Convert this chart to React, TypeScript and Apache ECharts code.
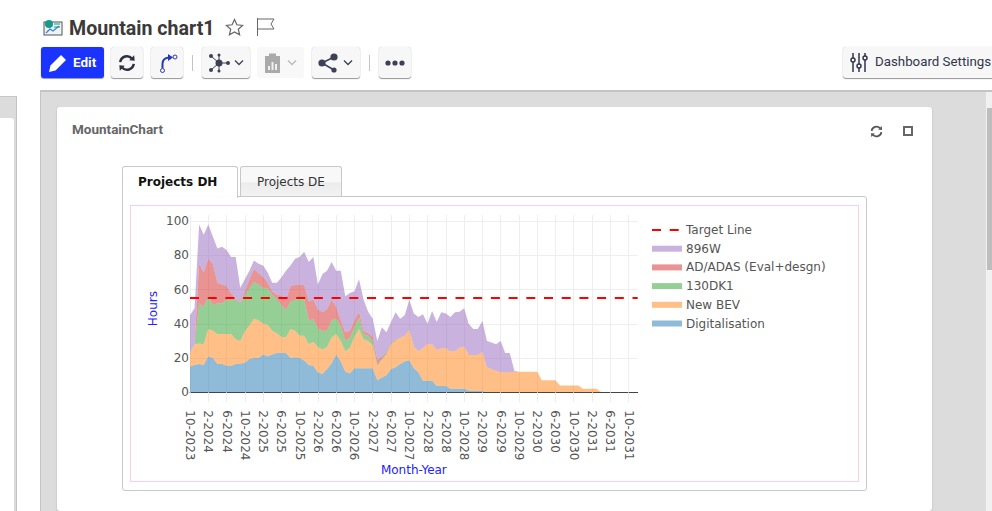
import React, { useEffect, useRef } from "react";
import * as echarts from "echarts";

const months: string[] = [
  "10-2023","11-2023","12-2023","1-2024","2-2024","3-2024","4-2024","5-2024","6-2024","7-2024","8-2024","9-2024","10-2024","11-2024","12-2024",
  "1-2025","2-2025","3-2025","4-2025","5-2025","6-2025","7-2025","8-2025","9-2025","10-2025","11-2025","12-2025",
  "1-2026","2-2026","3-2026","4-2026","5-2026","6-2026","7-2026","8-2026","9-2026","10-2026","11-2026","12-2026",
  "1-2027","2-2027","3-2027","4-2027","5-2027","6-2027","7-2027","8-2027","9-2027","10-2027","11-2027","12-2027",
  "1-2028","2-2028","3-2028","4-2028","5-2028","6-2028","7-2028","8-2028","9-2028","10-2028","11-2028","12-2028",
  "1-2029","2-2029","3-2029","4-2029","5-2029","6-2029","7-2029","8-2029","9-2029","10-2029","11-2029","12-2029",
  "1-2030","2-2030","3-2030","4-2030","5-2030","6-2030","7-2030","8-2030","9-2030","10-2030","11-2030","12-2030",
  "1-2031","2-2031","3-2031","4-2031","5-2031","6-2031","7-2031","8-2031","9-2031","10-2031","11-2031","12-2031",
];

const digitalisation = [15,16,16.5,16,21,20,16.5,16.7,15.5,15.5,16.5,16.7,17.3,19.5,20,20,22,21,22,23,23,23,20,20.4,20,18.5,16,15.5,11.5,10.7,13.6,17,22,18,12,11,14,14,14,14,14,7,8.6,10,13.6,14.6,16.5,18,18.7,14,11.5,6.8,6.8,6.8,3.7,3.7,3.7,2,2,2,2,1,0.8,0.8,0.8,0,0,0,0,0,0,0,0,0,0,0,0,0,0,0,0,0,0,0,0,0,0,0,0,0,0,0,0,0,0,0,0,0,0];
const newBev = [8,12,12,12,16,16,17.5,17.3,18.5,18.5,14.5,13.3,18.2,19.5,23,22,18,18.5,14,11.5,9.5,9,17,15.6,13,14.5,12,14,15,14.3,12.9,15,12,12,12,15,18.5,23,17,16,13.5,8.5,10.4,12,14.4,15.4,15.5,15,17.7,12.7,12.5,19.2,21.2,21.2,21,22,22,22,22,24,24.7,20.8,21,21,22.9,14.6,13.6,12.6,11.7,11.7,11.7,12,12,12,12,12,12,7,7,7,7,4,4,4,4,4,2,2,2,2,0,0,0,0,0,0,0,0,0];
const dk130 = [0,0,23.5,22,19,15,18,18,20,20,23,22,21.5,21.7,21.6,21,21,21.2,21,20,18.5,16,16,18,21.5,21.3,14,13.1,10.8,11,9.5,10,9,9,6,6,5.5,6.6,3,3,2.5,0.8,0.5,1,0.5,0.3,0,0,0,0,0,0,0,0,0,0,0,0,0,0,0,0,0,0,0,0,0,0,0,0,0,0,0,0,0,0,0,0,0,0,0,0,0,0,0,0,0,0,0,0,0,0,0,0,0,0,0,0,0];
const adAdas = [0,0,23,20,22,24,12,11,8,4,0.5,0.5,2,5.3,7.4,6.5,6.5,3.3,2,2.5,5.5,6,9,8.6,8.1,8.3,11,11.4,11.2,10.7,12.6,12,7,3,5,4,4,3.4,2,1.5,2.5,2.7,1.3,0.7,0.5,0.3,0,0,0,0,0,0,0,0,0,0,0,0,0,0,0,0,0,0,0,0,0,0,0,0,0,0,0,0,0,0,0,0,0,0,0,0,0,0,0,0,0,0,0,0,0,0,0,0,0,0,0,0,0];
const w896 = [22,21,23,22,20,16,20,22,21,21,24.5,8.5,7,5,5,5.5,6.5,6,5,7,10.5,17,12,15.4,16.4,19.4,23,25,14.5,22.3,22.4,22,21,29,21,22,17,19,18,12.5,10.5,11,17.2,11.3,12,16.1,11,12,17.6,19.3,20,19.5,12,19.5,16.3,21,20.3,20,22.7,21,22.3,18.2,15.2,15.2,17.9,15.4,15.4,15.4,18.3,11.3,11.3,0.6,0,0,0,0,0,0,0,0,0,0,0,0,0,0,0,0,0,0,0,0,0,0,0,0,0,0,0];
const target = months.map(() => 55);

const seriesNames = ["Digitalisation", "New BEV", "130DK1", "AD/ADAS (Eval+desgn)", "896W"];
const seriesColors = ["rgba(31,119,180,0.5)", "rgba(255,127,14,0.5)", "rgba(44,160,44,0.5)", "rgba(214,39,40,0.5)", "rgba(148,103,189,0.5)"];
const seriesValues = [digitalisation, newBev, dk130, adAdas, w896];
const legendOrder = ["Target Line", "896W", "AD/ADAS (Eval+desgn)", "130DK1", "New BEV", "Digitalisation"];

const CHART_FONT = "'DejaVu Sans', Verdana, sans-serif";
const UI_FONT = "Roboto, sans-serif";

const abs = (left: number, top: number, width: number, height: number, extra: React.CSSProperties = {}): React.CSSProperties => ({
  position: "absolute", left, top, width, height, boxSizing: "border-box", ...extra,
});

const BTN_SHADOW = "0 1px 1px 0 rgba(0,0,0,0.4), 0 0 1px rgba(0,0,0,0.25)";

function Btn({ left, width, children, disabled }: { left: number; width: number; children?: React.ReactNode; disabled?: boolean }) {
  return (
    <div style={abs(left, 47, width, 31, disabled
      ? { background: "#f8f8f8", borderRadius: 3 }
      : { background: "#f7f7f7", borderRadius: 3, boxShadow: BTN_SHADOW })}>
      {children}
    </div>
  );
}

const Chevron = ({ x, color = "#3e4058" }: { x: number; color?: string }) => (
  <svg style={abs(x, 12, 10, 7)} viewBox="0 0 10 7"><path d="M1 1.5 L5 5.5 L9 1.5" fill="none" stroke={color} strokeWidth="1.3" /></svg>
);

const Refresh = ({ left, top, size, color }: { left: number; top: number; size: number; color: string }) => (
  <svg style={abs(left, top, size, size)} viewBox="0 0 20 20">
    <path d="M2.5 9 A7.5 7.5 0 0 1 15.5 5" fill="none" stroke={color} strokeWidth="2.8" />
    <path d="M17.5 11 A7.5 7.5 0 0 1 4.5 15" fill="none" stroke={color} strokeWidth="2.8" />
    <path d="M12.5 7 L18.5 7.5 L18 1.5 Z" fill={color} />
    <path d="M7.5 13 L1.5 12.5 L2 18.5 Z" fill={color} />
  </svg>
);

export default function App() {
  const ref = useRef<HTMLDivElement>(null);

  useEffect(() => {
    const chart = echarts.init(ref.current!, undefined, { renderer: "svg" });
    chart.setOption({
      animation: false,
      backgroundColor: "transparent",
      textStyle: { fontFamily: CHART_FONT },
      grid: { left: 190, right: 354.3, top: 215, bottom: 118.7, containLabel: false },
      legend: {
        left: 651,
        top: 224,
        padding: 0,
        orient: "vertical",
        itemWidth: 30,
        itemHeight: 6,
        itemGap: 6.7,
        selectedMode: false,
        textStyle: { color: "#555", fontSize: 12, fontFamily: CHART_FONT, padding: [0, 0, 0, -1] },
        data: legendOrder.map((name) =>
          name === "Target Line" ? { name, itemStyle: { opacity: 0 } } : { name, icon: "rect" }
        ),
      },
      xAxis: {
        type: "category",
        boundaryGap: false,
        data: months,
        name: "Month-Year",
        nameLocation: "middle",
        nameGap: 72,
        nameTextStyle: { color: "#2222ff", fontSize: 12, fontFamily: CHART_FONT },
        axisLine: { show: true, lineStyle: { color: "#444", width: 1 } },
        axisTick: { show: true, interval: 3, length: 10, lineStyle: { color: "#eee" } },
        axisLabel: { interval: 3, rotate: -90, margin: 18, color: "#555", fontSize: 12, fontFamily: CHART_FONT, showMinLabel: true, padding: [2, 0, 0, 0] },
        splitLine: { show: true, interval: 3, lineStyle: { color: "#eee", width: 1 } },
      },
      yAxis: {
        type: "value",
        min: 0,
        max: 103.5,
        interval: 20,
        name: "Hours",
        nameLocation: "middle",
        nameGap: 31,
        nameRotate: 90,
        nameTextStyle: { color: "#2222ff", fontSize: 12, fontFamily: CHART_FONT, padding: [0, 10, 0, 0] },
        axisLine: { show: false },
        axisTick: { show: false },
        axisLabel: { color: "#555", fontSize: 12, margin: 1, showMaxLabel: false, fontFamily: CHART_FONT },
        splitLine: { show: true, showMaxLine: false, lineStyle: { color: "#eee", width: 1 } },
      },
      series: [
        ...seriesNames.map((name, i) => ({
          name,
          type: "line",
          stack: "total",
          data: seriesValues[i],
          symbol: "none",
          showSymbol: false,
          lineStyle: { width: 0 },
          itemStyle: { color: seriesColors[i] },
          areaStyle: { color: seriesColors[i], opacity: 1 },
          silent: true,
        })),
        {
          name: "Target Line",
          type: "line",
          data: target,
          symbol: "none",
          showSymbol: false,
          z: 5,
          itemStyle: { color: "#ff0000" },
          lineStyle: { color: "#ff0000", width: 2, type: [9, 8.7] },
          silent: true,
        },
      ],
    });
    return () => chart.dispose();
  }, []);

  return (
    <div style={{ position: "fixed", left: 0, top: 0, width: 992, height: 511, overflow: "hidden", background: "#fff", fontFamily: UI_FONT }}>
      {/* title row */}
      <svg style={abs(43, 19, 20, 18)} viewBox="0 0 20 18">
        <rect x="1" y="3" width="18" height="13" fill="#eef3f3" stroke="#555" strokeWidth="1" />
        <circle cx="6" cy="5" r="4" fill="#159a8c" />
        <path d="M3 14 L7 10 L10 12 L16 7" fill="none" stroke="#3b7de0" strokeWidth="1.2" />
        <path d="M11 5 H17 M11 8 H17" stroke="#159a8c" strokeWidth="1" />
      </svg>
      <div style={abs(69, 17, 170, 24, { fontSize: 19.6, fontWeight: 700, color: "#3a3a3a", lineHeight: "24px", whiteSpace: "nowrap" })}>Mountain chart1</div>
      <svg style={abs(225, 18, 19, 18)} viewBox="0 0 19 18">
        <path d="M9.5 1.5 L11.9 6.8 L17.6 7.4 L13.3 11.2 L14.6 16.8 L9.5 13.9 L4.4 16.8 L5.7 11.2 L1.4 7.4 L7.1 6.8 Z" fill="none" stroke="#666" strokeWidth="1.2" />
      </svg>
      <svg style={abs(256, 17, 20, 20)} viewBox="0 0 20 20">
        <path d="M1.5 1 V19" stroke="#666" strokeWidth="1" />
        <path d="M2 2 H18 L15 7 L18 12 H2" fill="none" stroke="#666" strokeWidth="1" />
      </svg>

      {/* toolbar */}
      <div style={abs(41, 47, 63, 31, { background: "#1a33ff", borderRadius: 3, boxShadow: BTN_SHADOW })}>
        <svg style={abs(7, 6, 20, 20)} viewBox="0 0 20 20">
          <path d="M1 19 L2.5 12.5 L13 2 L18 7 L7.5 17.5 Z" fill="#fff" />
        </svg>
        <div style={abs(32, 0, 30, 31, { color: "#fff", fontSize: 13.5, fontWeight: 700, lineHeight: "30px" })}>Edit</div>
      </div>
      <Btn left={111} width={32}><Refresh left={7} top={7} size={18} color="#2d2f45" /></Btn>
      <Btn left={151} width={32}>
        <svg style={abs(7, 5, 20, 22)} viewBox="0 0 20 22">
          <path d="M4.5 16 V12 Q4.5 6 11 5.5" fill="none" stroke="#2438b8" strokeWidth="2" />
          <path d="M10 2 L15 5.5 L10 9 Z" fill="#2438b8" />
          <circle cx="4.5" cy="18.5" r="2" fill="none" stroke="#2438b8" />
          <circle cx="17" cy="5" r="2" fill="none" stroke="#2438b8" />
        </svg>
      </Btn>
      <div style={abs(192, 55, 1, 16, { background: "#c4c4c4" })} />
      <Btn left={202} width={48}>
        <svg style={abs(6, 6, 22, 20)} viewBox="0 0 22 20" fill="#3e4058">
          <circle cx="11" cy="10" r="3.5" /><circle cx="3" cy="3" r="2" /><circle cx="3" cy="17" r="2" /><circle cx="11" cy="2" r="1.5" /><circle cx="11" cy="18" r="1.5" /><circle cx="20" cy="10" r="2" />
          <path d="M3 3 L11 10 L3 17 M11 2 V18 M11 10 H20" stroke="#3e4058" fill="none" />
        </svg>
        <Chevron x={32} />
      </Btn>
      <Btn left={257} width={47} disabled>
        <svg style={abs(7, 6, 17, 21)} viewBox="0 0 17 21">
          <rect x="1" y="3" width="15" height="17" fill="#aaa" />
          <rect x="5" y="0.5" width="7" height="4" fill="#aaa" />
          <path d="M5 17 V13 M8.5 17 V9 M12 17 V11" stroke="#f0f0f0" strokeWidth="2" />
        </svg>
        <Chevron x={30} color="#bbb" />
      </Btn>
      <Btn left={312} width={48}>
        <svg style={abs(6, 6, 22, 20)} viewBox="0 0 22 20" fill="#3e4058">
          <circle cx="4" cy="10" r="3.6" /><circle cx="16" cy="4" r="3.6" /><circle cx="16" cy="17" r="2.6" />
          <path d="M4 10 L16 4 M4 10 L16 17" stroke="#3e4058" strokeWidth="1.5" />
        </svg>
        <Chevron x={31} />
      </Btn>
      <div style={abs(369, 55, 1, 16, { background: "#c4c4c4" })} />
      <Btn left={379} width={32}>
        <svg style={abs(6, 13, 20, 6)} viewBox="0 0 20 6" fill="#3e4058"><circle cx="3" cy="3" r="2.6" /><circle cx="10" cy="3" r="2.6" /><circle cx="17" cy="3" r="2.6" /></svg>
      </Btn>
      <div style={abs(843, 47, 170, 31, { background: "#f7f7f7", borderRadius: 3, boxShadow: BTN_SHADOW })}>
        <svg style={abs(7, 6, 18, 19)} viewBox="0 0 18 19" fill="none" stroke="#33354d" strokeWidth="1.5">
          <path d="M3 0 V19 M9 0 V19 M15 0 V19" />
          <circle cx="3" cy="7" r="2" fill="#f7f7f7" /><circle cx="9" cy="13" r="2" fill="#f7f7f7" /><circle cx="15" cy="5" r="2" fill="#f7f7f7" />
        </svg>
        <div style={{ position: "absolute", left: 32, top: 0, fontSize: 13.3, color: "#33354d", lineHeight: "30px", whiteSpace: "nowrap" }}>Dashboard Settings</div>
      </div>

      {/* workspace */}
      <div style={abs(0, 96, 17, 415, { background: "#dcdcdc", borderTop: "1px solid #c8c8c8", borderRight: "1px solid #c4c4c4" })} />
      <div style={abs(0, 118, 14, 393, { background: "#fff", borderTopRightRadius: 3 })} />
      <div style={abs(40, 90, 952, 421, { background: "#dcdcdc", borderTop: "2px solid #c4c4c4", borderLeft: "1px solid #c4c4c4" })} />
      <div style={abs(986, 92, 6, 419, { background: "#f1f1f1" })} />
      <div style={abs(987, 108, 5, 162, { background: "#bdbdbd" })} />
      <div style={abs(57, 107, 875, 404, { background: "#fff", borderRadius: 3, boxShadow: "0 1px 2px rgba(0,0,0,0.2)" })} />
      <div style={abs(72, 121, 120, 16, { fontSize: 13.5, fontWeight: 700, color: "#666", lineHeight: "16px", whiteSpace: "nowrap" })}>MountainChart</div>
      <Refresh left={870} top={125} size={13} color="#555" />
      <div style={abs(903, 126, 10, 10, { border: "2px solid #666" })} />

      {/* tabs and panels */}
      <div style={abs(122, 196, 745, 295, { border: "1px solid #c8c8c8", borderRadius: 3 })} />
      <div style={abs(122, 166, 116, 32, { background: "#fff", border: "1px solid #c8c8c8", borderBottom: "none", borderRadius: "3px 3px 0 0", fontFamily: CHART_FONT, fontSize: 12, fontWeight: 700, color: "#111", lineHeight: "30px", paddingLeft: 15, whiteSpace: "nowrap" })}>Projects DH</div>
      <div style={abs(240, 166, 102, 30, { background: "linear-gradient(#f8f8f8 50%, #ececec 55%, #f2f2f2)", border: "1px solid #c8c8c8", borderBottom: "none", borderRadius: "3px 3px 0 0", fontFamily: CHART_FONT, fontSize: 12, color: "#333", lineHeight: "30px", paddingLeft: 16, whiteSpace: "nowrap" })}>Projects DE</div>
      <div style={abs(130, 205, 729, 277, { border: "1px solid #ffcfdb" })} />

      {/* chart */}
      <div ref={ref} style={abs(0, 0, 992, 511)} />
    </div>
  );
}
